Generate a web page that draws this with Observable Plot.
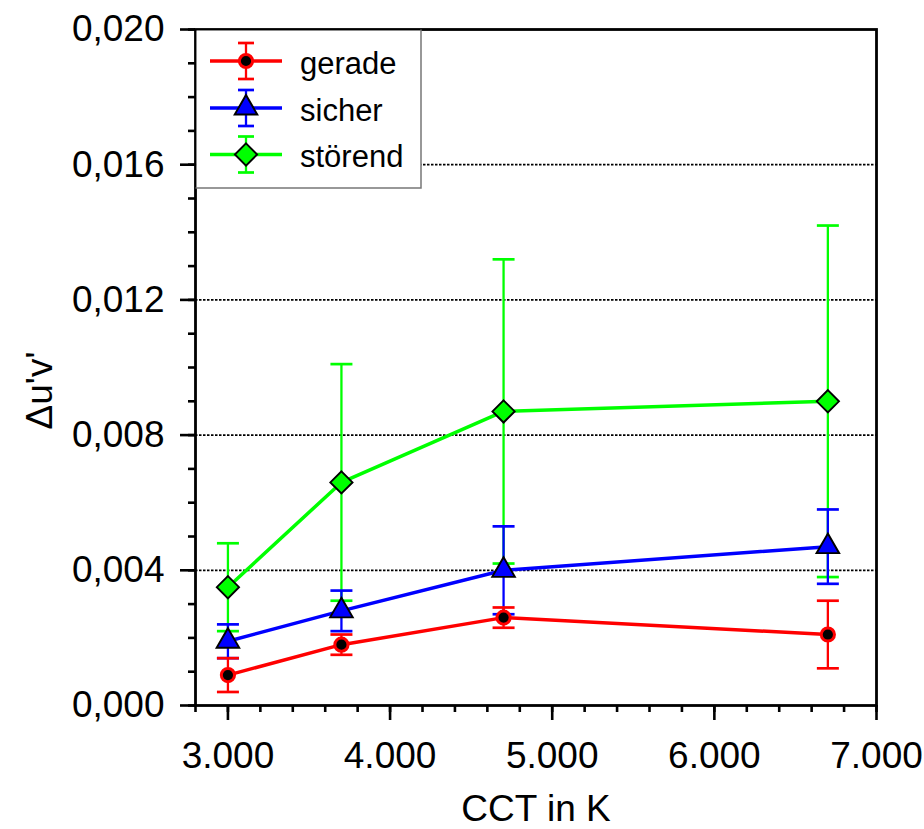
<!DOCTYPE html>
<html><head><meta charset="utf-8">
<script src="https://cdn.jsdelivr.net/npm/d3@7"></script>
<script src="https://cdn.jsdelivr.net/npm/@observablehq/plot@0.6"></script>
<style>body{margin:0;background:#fff} #chart{width:924px;height:829px}</style>
</head><body><div id="chart"></div>
<script>
// ---- data ----
const cct = [3000, 3700, 4700, 6700];
const series = ["gerade", "sicher", "störend"];
const gerade = [0.0009, 0.0018, 0.0026, 0.0021];
const geradeErr = [0.0005, 0.0003, 0.0003, 0.0010];
const sicher = [0.0019, 0.0028, 0.0040, 0.0047];
const sicherErr = [0.0005, 0.0006, 0.0013, 0.0011];
const stoerend = [0.0035, 0.0066, 0.0087, 0.0090];
const stoerendErr = [0.0013, 0.0035, 0.0045, 0.0052];
const xTicks = [3000, 4000, 5000, 6000, 7000];
const xTickLabels = ["3.000", "4.000", "5.000", "6.000", "7.000"];
const yTicks = [0, 0.004, 0.008, 0.012, 0.016, 0.020];
const yTickLabels = ["0,000", "0,004", "0,008", "0,012", "0,016", "0,020"];
const gridY = [0.004, 0.008, 0.012, 0.016];
const xMinor = [2800,3000,3200,3400,3600,3800,4000,4200,4400,4600,4800,5000,5200,5400,5600,5800,6000,6200,6400,6600,6800,7000];
const yMinor = [0,0.001,0.002,0.003,0.004,0.005,0.006,0.007,0.008,0.009,0.010,0.011,0.012,0.013,0.014,0.015,0.016,0.017,0.018,0.019,0.020];
const xLabel = "CCT in K";
const yLabel = "Δu'v'";

// ---- styles ----
const colors = ["#ff0000", "#0000ff", "#00ff00"];
const symbols = ["circle", "triangle", "diamond2"];
const symR = [6.6, 8.4, 10];
const symFill = ["#000000", "#0000ff", "#00ff00"];
const symStroke = ["#ff0000", "#000000", "#000000"];
const symSW = [3, 1.9, 1.9];
const FONT = "'Liberation Sans', Arial, Helvetica, sans-serif";

const values = [gerade, sicher, stoerend];
const errors = [geradeErr, sicherErr, stoerendErr];
const rows = [];
series.forEach((s, si) => cct.forEach((x, i) => rows.push({series: s, si, x, v: values[si][i], e: errors[si][i]})));

const capSymbol = {draw(ctx, size) { const w = Math.sqrt(size / Math.PI); ctx.moveTo(-w, 0); ctx.lineTo(w, 0); }};

const marks = [];
marks.push(Plot.ruleY(gridY, {stroke: "black", strokeWidth: 1.8, strokeDasharray: "2.5,1.5"}));
for (const si of [2, 1, 0]) {
  const d = rows.filter(r => r.si === si);
  marks.push(Plot.ruleX(d, {x: "x", y1: r => r.v - r.e, y2: r => r.v + r.e, stroke: colors[si], strokeWidth: 2.3}));
  marks.push(Plot.dot(d, {x: "x", y: r => r.v + r.e, symbol: capSymbol, r: 11, stroke: colors[si], strokeWidth: 2.7, fill: "none"}));
  marks.push(Plot.dot(d, {x: "x", y: r => r.v - r.e, symbol: capSymbol, r: 11, stroke: colors[si], strokeWidth: 2.7, fill: "none"}));
}
for (const si of [0, 1, 2]) {
  const d = rows.filter(r => r.si === si);
  marks.push(Plot.line(d, {x: "x", y: "v", stroke: colors[si], strokeWidth: 3.5}));
}
for (const si of [0, 1, 2]) {
  const d = rows.filter(r => r.si === si);
  marks.push(Plot.dot(d, {x: "x", y: "v", symbol: symbols[si], r: symR[si], fill: symFill[si], stroke: symStroke[si], strokeWidth: symSW[si]}));
}
marks.push(Plot.frame({stroke: "black", strokeWidth: 2.8}));
marks.push(Plot.axisX(xMinor, {tickSize: 7, text: null, label: null, strokeWidth: 2.6}));
marks.push(Plot.axisX(xTicks, {tickSize: 15, tickPadding: 21, strokeWidth: 2.6, fontSize: 37, label: null,
  tickFormat: d => xTickLabels[xTicks.indexOf(d)]}));
marks.push(Plot.axisY(yMinor, {tickSize: 7, text: null, label: null, strokeWidth: 2.6}));
marks.push(Plot.axisY(yTicks, {tickSize: 15, tickPadding: 16, strokeWidth: 2.6, fontSize: 37, label: null,
  tickFormat: d => yTickLabels[yTicks.findIndex(t => Math.abs(t - d) < 1e-9)]}));
marks.push(Plot.text([xLabel], {frameAnchor: "bottom", lineAnchor: "middle", dy: 104, fontSize: 37, fill: "black"}));
marks.push(Plot.text([yLabel], {frameAnchor: "left", textAnchor: "middle", lineAnchor: "middle", dx: -155, dy: 23, rotate: -90, fontSize: 37, fill: "black"}));

const plot = Plot.plot({
  width: 924, height: 829,
  marginLeft: 195, marginRight: 48, marginTop: 29, marginBottom: 124,
  style: {fontFamily: FONT, background: "white", color: "black"},
  x: {domain: [2800, 7000]},
  y: {domain: [0, 0.020]},
  marks
});
document.getElementById("chart").appendChild(plot);

// ---- legend (inside plot, upper left) ----
const svg = d3.select(plot);
const lg = svg.append("g");
const bx0 = 196.5, by0 = 30.5, bx1 = 421, by1 = 188;
lg.append("rect").attr("x", bx0).attr("y", by0).attr("width", bx1 - bx0).attr("height", by1 - by0).attr("fill", "white");
lg.append("path").attr("d", `M${bx1},${by0 - 1}V${by1}H${bx0 - 1}`).attr("fill", "none").attr("stroke", "#777").attr("stroke-width", 1.5);
const rowY = [61, 108, 154.5];
const symMap = {circle: d3.symbolCircle, triangle: d3.symbolTriangle, diamond2: d3.symbolDiamond2};
series.forEach((s, si) => {
  const y = rowY[si], cx = 246;
  const g = lg.append("g");
  g.append("line").attr("x1", 210).attr("x2", 282).attr("y1", y).attr("y2", y).attr("stroke", colors[si]).attr("stroke-width", 3.5);
  g.append("line").attr("x1", cx).attr("x2", cx).attr("y1", y - 18).attr("y2", y + 18).attr("stroke", colors[si]).attr("stroke-width", 2.3);
  [y - 18, y + 18].forEach(cy => g.append("line").attr("x1", cx - 8).attr("x2", cx + 8).attr("y1", cy).attr("y2", cy).attr("stroke", colors[si]).attr("stroke-width", 2.7));
  g.append("path").attr("transform", `translate(${cx},${y})`)
    .attr("d", d3.symbol(symMap[symbols[si]], symR[si] * symR[si] * Math.PI)())
    .attr("fill", symFill[si]).attr("stroke", symStroke[si]).attr("stroke-width", symSW[si]);
  g.append("text").attr("x", 300).attr("y", y + 2).attr("dy", "0.35em").attr("text-anchor", "start")
    .style("font-size", "31px").style("font-family", FONT).attr("fill", "black").text(s);
});
</script>
</body></html>
